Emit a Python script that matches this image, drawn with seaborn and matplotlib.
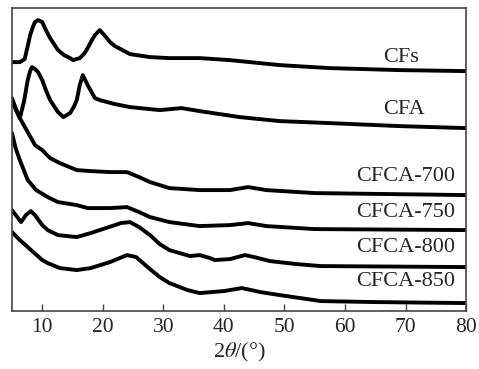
import matplotlib
matplotlib.use("Agg")
import matplotlib.pyplot as plt
import pandas as pd
import seaborn as sns

# 2theta (deg) / intensity (arbitrary, offset already included)
cfs_x = [5, 6.3, 7.1, 7.6, 8.0, 8.5, 8.8, 9.3, 10, 10.6, 11.3, 12.6, 13.6, 14.6,
         15.1, 16.2, 17.0, 17.5, 18.2, 18.7, 19.5, 20.4, 21.2, 22, 24.5, 27.8,
         31, 36, 41, 44.3, 49.2, 57.5, 69, 80]
cfs_y = [249, 249, 252, 265, 276, 285, 289, 291, 289, 281, 273, 261, 256, 253,
         251, 253, 258, 263, 271, 276, 281, 275, 269, 265, 257, 254,
         253, 253, 251, 249, 246, 243, 241, 240]

cfa_x = [5, 5.6, 6.3, 7.0, 7.6, 8.0, 8.3, 8.8, 9.3, 10, 10.6, 11.3, 12.6, 13.5,
         14.6, 15.2, 15.7, 16.2, 16.7, 17.1, 17.5, 18.7, 19.5, 22, 24.5, 29.4,
         33, 36, 42.6, 49.2, 57.5, 69, 80]
cfa_y = [211, 202, 193, 210, 231, 240, 244, 242, 239, 231, 221, 211, 199, 194,
         198, 204, 211, 226, 236, 231, 226, 213, 211, 207, 204, 201,
         203, 200, 194, 190, 188, 185, 183]

c700_x = [5, 5.6, 6.3, 7.6, 8.8, 10, 11.3, 12.9, 15.7, 18, 21.2, 24, 26, 27.8,
          31, 36, 41, 44, 47, 55, 80]
c700_y = [213, 203, 193, 179, 166, 161, 153, 148, 141, 140, 139, 139, 134, 129,
          123, 121, 121, 124, 121, 118, 116]

c750_x = [5, 5.6, 6.3, 7.6, 9, 10.9, 12.6, 15.7, 17.5, 21.2, 24, 26, 27.8, 31,
          36, 41, 44, 47, 55, 80]
c750_y = [178, 163, 151, 131, 121, 114, 109, 106, 103, 103, 104, 99, 94, 89,
          85, 86, 88, 85, 82, 81]

c800_x = [5, 6.0, 6.5, 7.3, 8.1, 8.8, 10, 10.9, 12.6, 15.7, 18, 21, 23, 24.5,
          26, 27.8, 29.4, 31, 34.4, 36, 37.7, 38.5, 41, 43.5, 45, 47.6, 52, 56, 80]
c800_y = [101, 93, 89, 96, 100, 96, 86, 81, 76, 74, 78, 84, 88, 89,
          84, 76, 67, 61, 55, 56, 53, 51, 52, 56, 54, 50, 47, 45, 44]

c850_x = [5, 6.3, 7.6, 10, 10.9, 12.9, 15.7, 18, 21.2, 24, 25.5, 27.8, 29.4, 31,
          34, 36, 40, 43, 46, 49.2, 56, 65, 80]
c850_y = [79, 71, 64, 51, 48, 43, 41, 43, 49, 56, 54, 42, 34, 28,
          21, 18, 20, 23, 19, 16, 10, 9, 8]

names = ["CFs", "CFA", "CFCA-700", "CFCA-750", "CFCA-800", "CFCA-850"]
label_x = [69.3, 69.8, 70.0, 70.0, 70.0, 70.0]
label_y = [254, 202, 135, 99, 64, 30]

series = [(cfs_x, cfs_y), (cfa_x, cfa_y), (c700_x, c700_y),
          (c750_x, c750_y), (c800_x, c800_y), (c850_x, c850_y)]

rows = []
for name, (xs, ys) in zip(names, series):
    for a, b in zip(xs, ys):
        rows.append({"two_theta": a, "intensity": b, "sample": name})
df = pd.DataFrame(rows)

sns.set_style("white")
plt.rcParams["font.family"] = ["Liberation Serif", "DejaVu Serif"]
plt.rcParams["mathtext.fontset"] = "stix"

fig = plt.figure(figsize=(4.79, 3.69), dpi=100)
ax = fig.add_axes([0.025, 0.157, 0.948, 0.821])

for name in names:
    sub = df[df["sample"] == name]
    sns.lineplot(data=sub, x="two_theta", y="intensity", color="black",
                 linewidth=2.8, ax=ax, estimator=None, sort=False,
                 solid_joinstyle="round")

for name, lx, ly in zip(names, label_x, label_y):
    ax.text(lx, ly, name, ha="center", va="center", fontsize=16)

ax.set_xlim(5, 80)
ax.set_ylim(0, 303)
ax.set_xticks([10, 20, 30, 40, 50, 60, 70, 80])
ax.set_yticks([])
ax.tick_params(axis="x", direction="in", length=5, width=1, labelsize=15.5,
               color="#444444", pad=5, bottom=True)
for sp in ax.spines.values():
    sp.set_color("#444444")
    sp.set_linewidth(1.2)
ax.set_xlabel("2$\\theta$/(°)", fontsize=16, labelpad=3)
ax.set_ylabel("")

fig.savefig("out.png", dpi=100)
